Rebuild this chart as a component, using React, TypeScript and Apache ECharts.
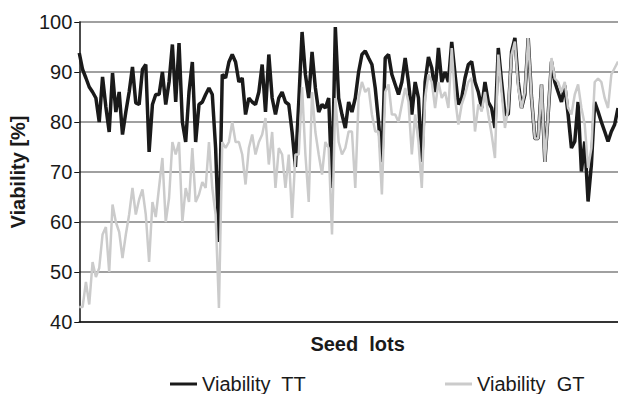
import React, { useEffect, useRef } from "react";
import * as echarts from "echarts";

const yTicks = [40, 50, 60, 70, 80, 90, 100];

const viabilityTT = [
  93.8, 90.5, 88.8, 87, 86, 84.8, 80, 89, 83, 78, 89.8, 82, 86, 77.5, 82, 86, 91, 83.8, 83.5, 90.5, 91.5, 74, 83.5, 85.5, 85.5, 90, 83.5,
  88, 95.5, 84, 95.8, 80, 76, 86, 92, 76, 83.5, 84, 85.5, 86.8, 85.5, 74.8, 56, 89.5, 88.8, 92, 93.5, 92, 88, 88.8, 81.5, 84.8, 84, 83.5,
  86, 91.5, 82, 93.5, 84.8, 81.5, 84.8, 86, 84, 83.5, 78, 71, 84, 98, 89.5, 84.8, 94, 86.8, 82, 83.5, 82.8, 84.8, 66.8, 99, 84.8, 81.5, 78.8,
  84, 82, 84.8, 90, 93.5, 94.2, 92.8, 91.5, 86.8, 80, 72, 92.8, 93.5, 89.5, 87.5, 85.5, 88, 92.8, 88, 81.5, 88, 84.8, 72, 88, 93, 90.8, 86,
  94.8, 88, 90, 88, 96, 89.5, 83.5, 84.8, 88.8, 91.5, 92.1, 88, 86, 82.8, 88, 84, 82.8, 78.8, 94.8, 88, 81.5, 81.5, 94.1, 96.8, 88, 82.8, 85.5,
  96.8, 84.8, 76.7, 76.7, 87.5, 72, 81.5, 92.1, 88, 86, 84, 87.3, 81.5, 74.8, 76.1, 84, 70.1, 76.1, 64.1, 71.5, 84, 82.1, 80, 78.1, 76.1, 78.1, 79.5, 82.8,
];

const viabilityGT = [
  43, 43, 48, 43.5, 52, 49, 50.8, 57.5, 59, 50, 63.5, 60, 58, 52.8, 57.5, 61.5, 66.8, 61.5, 64.5, 66.5, 61.5, 52, 64, 61, 67, 72.8, 60,
  64.8, 76, 73.5, 76, 60, 66.8, 64, 74.8, 64, 65.5, 68, 66.8, 76, 66.8, 61.5, 42.8, 76, 74.8, 76, 80, 76, 76, 73.5, 67.5, 74.8, 77.5, 73.5,
  76, 77.5, 80.8, 71.5, 78, 66.8, 74.8, 73.5, 66.8, 73.5, 60.8, 73.5, 73.5, 87, 73.5, 64, 86, 78, 73.5, 69.5, 76, 74.8, 57.5, 84.8, 76, 73.5, 74.8,
  78.1, 78.1, 66.8, 84.8, 88, 86, 86.8, 81.5, 78.1, 78.1, 65.5, 86, 87.5, 81.5, 81.5, 80, 83.5, 86.8, 84, 73.5, 81.5, 76, 66.8, 84.8, 89.5, 88, 82.8,
  88, 84.8, 86, 82.8, 94.8, 84.8, 79.5, 83.5, 85.5, 88, 88.8, 78.1, 83.5, 82.1, 86, 81.5, 77.5, 72.8, 93.5, 86, 78.8, 82.8, 93.5, 96.1, 86.8, 82.8, 86,
  96.8, 84.8, 76.7, 76.7, 87.5, 72, 81.5, 92.8, 88.7, 88, 86, 88, 82.8, 81.5, 85.5, 87.5, 82.8, 79.5, 70.8, 74.8, 88, 88.7, 88, 84.8, 82.8, 89.5, 90.8, 92.1,
];

const seedLots = viabilityTT.map((_, i) => String(i + 1));

const FONT = "'Liberation Sans', Arial, sans-serif";

export default function App() {
  const ref = useRef<HTMLDivElement>(null);
  useEffect(() => {
    if (!ref.current) return;
    const chart = echarts.init(ref.current, undefined, { renderer: "svg" });
    chart.setOption({
      animation: false,
      backgroundColor: "#ffffff",
      textStyle: { fontFamily: FONT },
      grid: { left: 78, right: 0, top: 22, bottom: 72, containLabel: false },
      legend: [
        {
          data: ["Viability  TT"],
          left: 170,
          top: 374,
          padding: 0,
          icon: "rect",
          itemWidth: 27,
          itemHeight: 3,
          itemGap: 5,
          textStyle: { fontSize: 20, color: "#1a1a1a", fontFamily: FONT },
        },
        {
          data: ["Viability  GT"],
          left: 445,
          top: 374,
          padding: 0,
          icon: "rect",
          itemWidth: 27,
          itemHeight: 3,
          itemGap: 5,
          textStyle: { fontSize: 20, color: "#1a1a1a", fontFamily: FONT },
        },
      ],
      xAxis: {
        type: "category",
        data: seedLots,
        boundaryGap: false,
        name: "Seed  lots",
        nameLocation: "middle",
        nameGap: 12,
        nameTextStyle: {
          fontSize: 20,
          fontWeight: "bold",
          color: "#1a1a1a",
          fontFamily: FONT,
          padding: [0, 0, 0, 18],
        },
        axisLine: { show: true, lineStyle: { color: "#111", width: 1.5 } },
        axisTick: { show: false },
        axisLabel: { show: false },
        splitLine: { show: false },
      },
      yAxis: {
        type: "value",
        min: yTicks[0],
        max: yTicks[yTicks.length - 1],
        interval: 10,
        name: "Viability [%]",
        nameLocation: "middle",
        nameGap: 48,
        nameTextStyle: { fontSize: 20, fontWeight: "bold", color: "#1a1a1a", fontFamily: FONT },
        axisLine: { show: true, lineStyle: { color: "#111", width: 1.5 } },
        axisTick: { show: true, inside: false, length: 5, lineStyle: { color: "#111", width: 1 } },
        axisLabel: { fontSize: 20, color: "#1a1a1a", margin: 7, fontFamily: FONT },
        splitLine: { show: true, lineStyle: { color: "#808080", width: 1.5 } },
      },
      series: [
        {
          name: "Viability  TT",
          type: "line",
          data: viabilityTT,
          showSymbol: false,
          symbol: "none",
          lineStyle: { color: "#1a1a1a", width: 3.5 },
          itemStyle: { color: "#1a1a1a" },
        },
        {
          name: "Viability  GT",
          type: "line",
          data: viabilityGT,
          showSymbol: false,
          symbol: "none",
          lineStyle: { color: "#cbcbcb", width: 2.5 },
          itemStyle: { color: "#cbcbcb" },
        },
      ],
    });
    return () => chart.dispose();
  }, []);
  return (
    <div
      ref={ref}
      style={{ position: "absolute", left: 0, top: 0, width: 618, height: 394 }}
    />
  );
}
